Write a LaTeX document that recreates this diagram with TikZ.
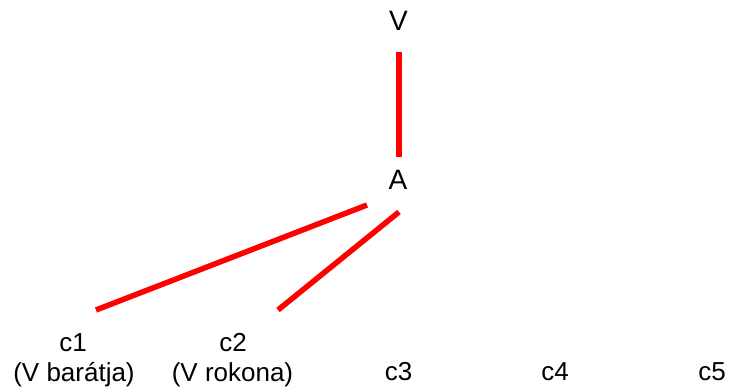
\documentclass[tikz,border=0pt]{standalone}
\usepackage{fontspec}
\setmainfont{Liberation Sans}
\begin{document}
\begin{tikzpicture}[x=1pt,y=-1pt,
  lbl/.style={anchor=base,inner sep=0pt,font=\fontsize{26}{30}\selectfont},
  big/.style={lbl,font=\fontsize{28}{32}\selectfont},
  edge/.style={draw={rgb,255:red,255;green,0;blue,0},line width=5.5pt,line cap=butt}]
\useasboundingbox (0,0) rectangle (730,390);
\node[big] (V) at (398.5,31) {V};
\node[big] (A) at (398,189.5) {A};
\node[lbl] (c1) at (73,351) {c1};
\node[lbl] (c1n) at (74,381) {(V barátja)};
\node[lbl] (c2) at (233,351) {c2};
\node[lbl] (c2n) at (232.5,381) {(V rokona)};
\node[lbl] (c3) at (398.5,380) {c3};
\node[lbl] (c4) at (555,380) {c4};
\node[lbl] (c5) at (712,380) {c5};
\coordinate (vA) at (399,52);
\coordinate (vB) at (399,157);
\coordinate (a1) at (367,205);
\coordinate (e1) at (96,310);
\coordinate (a2) at (399,212);
\coordinate (e2) at (278,310);
\draw[edge] (vA) -- (vB);
\draw[edge] (a1) -- (e1);
\draw[edge] (a2) -- (e2);
\end{tikzpicture}
\end{document}
